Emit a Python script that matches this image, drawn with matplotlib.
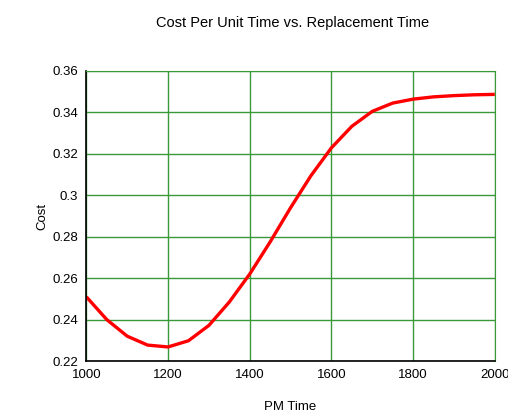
import numpy as np
import matplotlib
matplotlib.use('Agg')
import matplotlib.pyplot as plt

# PM time vs cost per unit time
pm_time = [1000, 1050, 1100, 1150, 1200, 1250, 1300, 1350, 1400, 1450, 1500,
           1550, 1600, 1650, 1700, 1750, 1800, 1850, 1900, 1950, 2000]
cost = [0.251, 0.240, 0.232, 0.2277, 0.2268, 0.2298, 0.2372, 0.2485, 0.2620,
        0.2775, 0.2940, 0.3095, 0.3229, 0.3333, 0.3405, 0.3445, 0.3464,
        0.3475, 0.3481, 0.3485, 0.3487]
xticks = [1000, 1200, 1400, 1600, 1800, 2000]
yticks = [0.22, 0.24, 0.26, 0.28, 0.3, 0.32, 0.34, 0.36]
ytick_labels = ['0.22', '0.24', '0.26', '0.28', '0.3', '0.32', '0.34', '0.36']

plt.rcParams['font.family'] = ['Liberation Sans', 'DejaVu Sans']

fig = plt.figure(figsize=(5.08, 4.15), dpi=100)
ax = fig.add_axes([0.170, 0.130, 0.804, 0.699])

ax.plot(pm_time, cost, color='#ff0000', linewidth=2.4, solid_capstyle='butt')

ax.set_xlim(1000, 2000)
ax.set_ylim(0.22, 0.36)
ax.set_xticks(xticks)
ax.set_yticks(yticks)
ax.set_yticklabels(ytick_labels)
ax.grid(True, color='#3a9a3a', linewidth=1.0)
ax.set_axisbelow(True)
ax.tick_params(length=0, labelsize=9.5, pad=6)

for s in ['top', 'right']:
    ax.spines[s].set_color('#3a9a3a')
for s in ['left', 'bottom']:
    ax.spines[s].set_color('black')
    ax.spines[s].set_linewidth(1.2)

fig.text(0.575, 0.944, 'Cost Per Unit Time vs. Replacement Time',
         ha='center', va='center', fontsize=10.5)
ax.set_xlabel('PM Time', fontsize=9.5, labelpad=14)
ax.set_ylabel('Cost', fontsize=9.5, labelpad=3)

fig.savefig('out.png', dpi=100)
